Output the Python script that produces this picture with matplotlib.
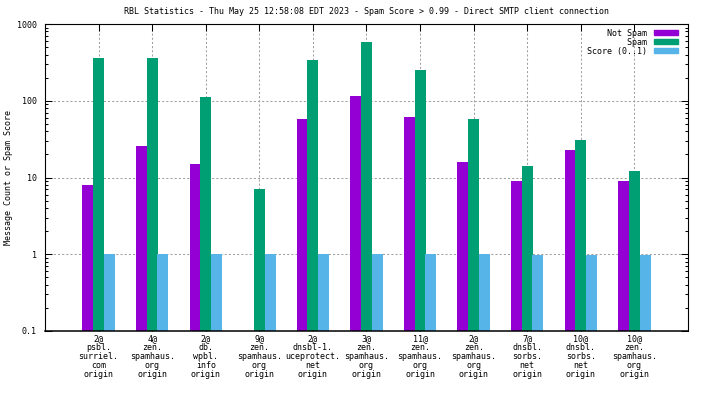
#!/usr/bin/env python
"""RBL statistics bar chart (gnuplot-style) on a log scale."""

import matplotlib

matplotlib.use("Agg")
import matplotlib.pyplot as plt
from matplotlib.patches import Patch
from matplotlib.ticker import FixedLocator, FuncFormatter, LogLocator, NullFormatter
import numpy as np

TITLE = "RBL Statistics - Thu May 25 12:58:08 EDT 2023 - Spam Score > 0.99 - Direct SMTP client connection"
YLABEL = "Message Count or Spam Score"

CATEGORIES = [
    "2@\npsbl.\nsurriel.\ncom\norigin",
    "4@\nzen.\nspamhaus.\norg\norigin",
    "2@\ndb.\nwpbl.\ninfo\norigin",
    "9@\nzen.\nspamhaus.\norg\norigin",
    "2@\ndnsbl-1.\nuceprotect.\nnet\norigin",
    "3@\nzen.\nspamhaus.\norg\norigin",
    "11@\nzen.\nspamhaus.\norg\norigin",
    "2@\nzen.\nspamhaus.\norg\norigin",
    "7@\ndnsbl.\nsorbs.\nnet\norigin",
    "10@\ndnsbl.\nsorbs.\nnet\norigin",
    "10@\nzen.\nspamhaus.\norg\norigin",
]
NOT_SPAM = [8, 26, 15, 0, 58, 116, 62, 16, 9, 23, 9]
SPAM = [360, 360, 112, 7, 340, 580, 252, 58, 14, 31, 12]
SCORE = [1.0, 1.0, 1.0, 1.0, 1.0, 1.0, 1.0, 1.0, 0.99, 0.99, 0.99]

SERIES = [
    ("Not Spam", NOT_SPAM, "#9400d3"),
    ("Spam", SPAM, "#009e73"),
    ("Score (0..1)", SCORE, "#56b4e9"),
]

FONT = "DejaVu Sans Mono"
FS = 6.0


def main() -> None:
    plt.rcParams.update({"font.family": FONT, "font.size": FS})
    fig = plt.figure(figsize=(7.04, 3.96), dpi=100)
    ax = fig.add_axes([45 / 704, 1 - 331 / 396, (688 - 45) / 704, (331 - 24) / 396])

    x = np.arange(len(CATEGORIES))
    width = 0.205
    offsets = [-0.2, 0.0, 0.2]
    for (label, values, color), off in zip(SERIES, offsets):
        vals = np.array(values, dtype=float)
        vals = np.where(vals > 0, vals, np.nan)
        ax.bar(x + off, vals, width=width, color=color, linewidth=0, zorder=2)

    ax.set_yscale("log")
    ax.set_ylim(0.1, 1000)
    ax.set_xlim(-1, len(CATEGORIES))

    ax.yaxis.set_major_locator(FixedLocator([0.1, 1, 10, 100, 1000]))
    ax.yaxis.set_major_formatter(FuncFormatter(lambda v, _: f"{v:g}"))
    ax.yaxis.set_minor_locator(LogLocator(base=10, subs=np.arange(2, 10)))
    ax.yaxis.set_minor_formatter(NullFormatter())

    ax.set_xticks(x)
    ax.set_xticklabels(CATEGORIES, linespacing=1.0, va="top")
    ax.tick_params(axis="both", which="both", direction="in", top=True, right=True,
                   width=0.75, labelsize=FS, colors="black")
    ax.tick_params(axis="y", which="major", length=5, pad=6)
    ax.tick_params(axis="y", which="minor", length=2.5)
    ax.tick_params(axis="x", which="major", length=5, pad=2.5)

    ax.grid(True, which="major", color="#a0a0a0", linewidth=0.75,
            linestyle=(0, (2, 2)), zorder=0)
    ax.set_axisbelow(True)
    for spine in ax.spines.values():
        spine.set_linewidth(0.8)
    ax.spines["bottom"].set_linewidth(1.1)

    ax.set_title(TITLE, fontsize=FS, pad=7)
    ax.set_ylabel(YLABEL, fontsize=FS)
    ax.yaxis.set_label_coords(-0.05, 0.5)

    width_chars = max(len(s[0]) for s in SERIES)
    handles = [Patch(facecolor=c, edgecolor=c) for _, _, c in SERIES]
    labels = [s[0].rjust(width_chars) for s in SERIES]
    ax.legend(handles, labels, loc="upper right", markerfirst=False, frameon=False,
              fontsize=FS, handlelength=2.9, handleheight=0.55, labelspacing=0.0,
              handletextpad=0.8, borderaxespad=0.0, borderpad=0.2,
              bbox_to_anchor=(1 - 8 / 643, 1 - 3 / 307))

    fig.savefig("out.png", dpi=100)
    plt.close(fig)


if __name__ == "__main__":
    main()
